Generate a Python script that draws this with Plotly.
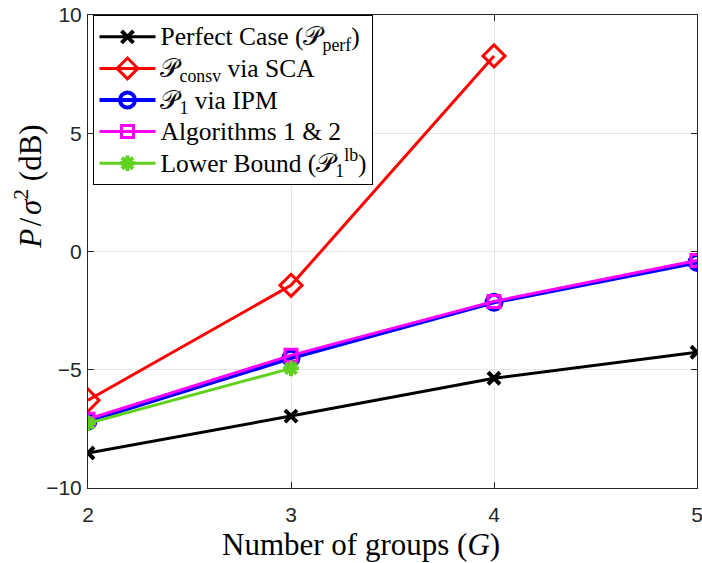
import plotly.graph_objects as go

G = [2, 3, 4, 5]
perfect = [-8.52, -6.96, -5.36, -4.26]
sca_G = [2, 3, 4]
sca = [-6.29, -1.43, 8.27]
ipm = [-7.17, -4.51, -2.15, -0.46]
alg = [-7.09, -4.39, -2.11, -0.38]
lb_G = [2, 3]
lb = [-7.26, -4.94]

names = [
    "Perfect Case (𝒫<sub>perf</sub>)",
    "𝒫<sub>consv</sub> via SCA",
    "𝒫<sub>1</sub> via IPM",
    "Algorithms 1 &amp; 2",
    "Lower Bound (𝒫<sub>1</sub><sup>lb</sup>)",
]
x_title = "Number of groups (<i>G</i>)"
y_title = "<i>P</i>\u200a/\u200a<i>σ</i><sup>2</sup> (dB)"


def big(s):
    return '<span style="font-size:25.5px">' + s + "</span>"


fig = go.Figure()
fig.add_trace(go.Scatter(x=G, y=perfect, name=big(names[0]), mode="lines+markers",
                         line=dict(color="black", width=3),
                         marker=dict(symbol="x-thin", size=12, line=dict(color="black", width=4))))
fig.add_trace(go.Scatter(x=sca_G, y=sca, name=big(names[1]), mode="lines+markers",
                         line=dict(color="#ff0000", width=3),
                         marker=dict(symbol="diamond-open", size=17, line=dict(color="#ff0000", width=3))))
fig.add_trace(go.Scatter(x=G, y=ipm, name=big(names[2]), mode="lines+markers",
                         line=dict(color="#0000ff", width=4),
                         marker=dict(symbol="circle-open", size=15, line=dict(color="#0000ff", width=4))))
fig.add_trace(go.Scatter(x=G, y=alg, name=big(names[3]), mode="lines+markers",
                         line=dict(color="#ff00ff", width=3),
                         marker=dict(symbol="square-open", size=12, line=dict(color="#ff00ff", width=3))))
fig.add_trace(go.Scatter(x=lb_G, y=lb, name=big(names[4]), mode="lines+markers",
                         line=dict(color="#5fd21e", width=3),
                         marker=dict(symbol="asterisk-open", size=13, line=dict(color="#5fd21e", width=4))))

axis_common = dict(showline=True, linecolor="#262626", linewidth=1, mirror="ticks",
                   ticks="inside", ticklen=6, tickcolor="#262626",
                   showgrid=True, gridcolor="#e6e6e6", gridwidth=1, zeroline=False,
                   ticklabeloverflow="allow", automargin=False,
                   tickfont=dict(family="Liberation Sans, Arial", size=21, color="#262626"))

serif = "Liberation Serif, Times New Roman"

fig.update_layout(
    width=702, height=563,
    margin=dict(l=88, r=5, t=15, b=75),
    paper_bgcolor="white", plot_bgcolor="white",
    xaxis=dict(range=[2, 5], tickvals=[2, 3, 4, 5], ticklabelstandoff=8, **axis_common),
    yaxis=dict(range=[-10, 10], tickvals=[-10, -5, 0, 5, 10], ticklabelstandoff=1, **axis_common),
    legend=dict(x=0.009, y=1.0, xanchor="left", yanchor="top",
                bgcolor="white", bordercolor="black", borderwidth=1,
                font=dict(family=serif, size=22, color="black"),
                tracegroupgap=0, itemwidth=56),
    showlegend=True,
    annotations=[
        dict(text=x_title, xref="paper", yref="paper", x=0.449, y=-0.1205,
             xanchor="center", yanchor="middle", showarrow=False,
             font=dict(family=serif, size=31, color="black")),
        dict(text=y_title, xref="paper", yref="paper", x=-0.098, y=0.6375,
             xanchor="center", yanchor="middle", showarrow=False, textangle=-90,
             font=dict(family=serif, size=31, color="black")),
    ],
)

fig.write_html("out.html")
